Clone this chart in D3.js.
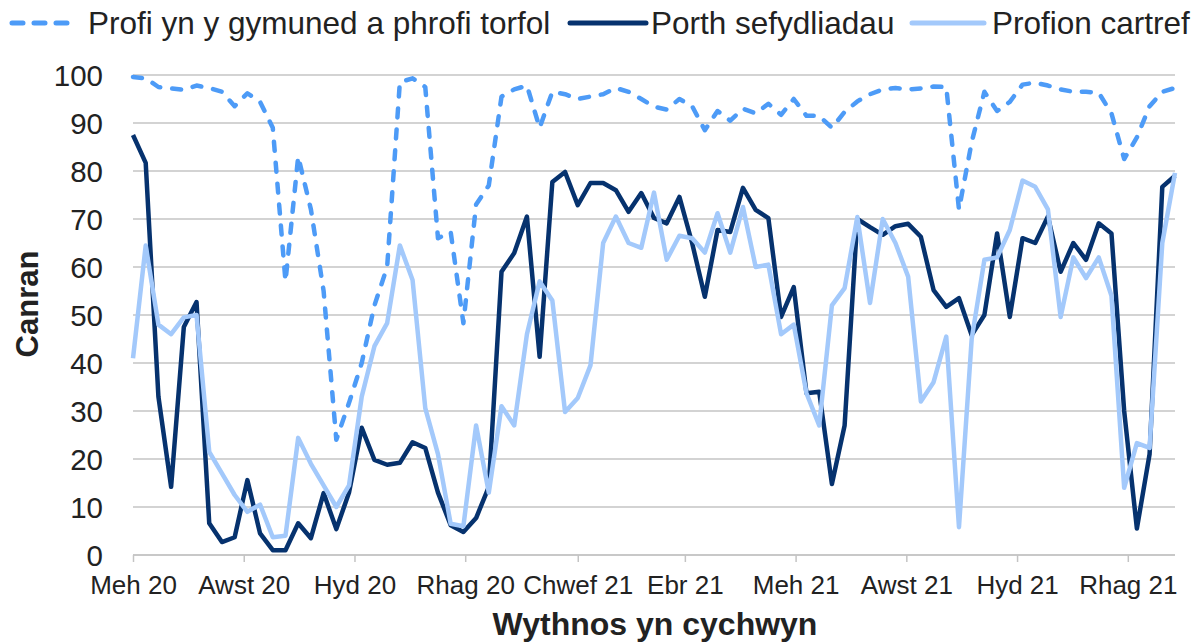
<!DOCTYPE html>
<html>
<head>
<meta charset="utf-8">
<script src="https://cdn.jsdelivr.net/npm/d3@7"></script>
<style>
  html, body { margin: 0; padding: 0; background: #ffffff; }
  svg { display: block; }
  text { font-family: "Liberation Sans", Arial, sans-serif; fill: #222; }
</style>
</head>
<body>
<svg id="chart" width="1196" height="643"></svg>
<script>
// ---- Data ----
const seriesNames = ["Profi yn y gymuned a phrofi torfol", "Porth sefydliadau", "Profion cartref"];

// weekly, week commencing 1 June 2020 .. 27 Dec 2021 (83 weeks)
const firstWeek = new Date(2020, 5, 1);
const weekCount = 83;

const community = [
  99.6, 99.3, 97.5, 97.2, 96.9, 97.8, 97.3, 96.5, 93.5, 96.2,
  94.4, 89, 57, 83, 72, 55, 24, 31.7, 40, 52,
  60, 98.5, 99.3, 97.5, 66, 67.3, 48.3, 73, 77, 95.5,
  97, 97.8, 89, 96.5, 96, 95, 95.5, 96, 97.3, 96.5,
  95, 93.4, 92.8, 95, 93.5, 88.5, 92.5, 90.5, 93, 92,
  94, 91.7, 95, 91.5, 91.5, 89, 92.3, 94.5, 96, 97,
  97.3, 97, 97.2, 97.6, 97.5, 72, 86, 96.5, 92.5, 94.4,
  98, 98.4, 97.8, 97, 96.5, 96.5, 96.3, 92, 82.5, 87,
  93.5, 96.5, 97.3
];

const institutional = [
  87.5, 81.7, 33, 14.2, 47.5, 52.7, 6.6, 2.7, 3.7, 15.6,
  4.5, 1, 1, 6.6, 3.5, 12.9, 5.4, 13, 26.5, 19.8,
  18.8, 19.2, 23.5, 22.3, 13, 6.2, 4.8, 7.7, 14.2, 59,
  62.9, 70.5, 41.3, 77.7, 79.8, 72.9, 77.5, 77.5, 76, 71.5,
  75.4, 70.2, 69.1, 74.6, 65, 53.8, 67.7, 67.3, 76.5, 71.9,
  70.2, 49.6, 55.8, 33.7, 34, 14.8, 27, 70, 68.3, 66.7,
  68.5, 69, 66.3, 55.2, 51.7, 53.5, 45.8, 50, 67, 49.6,
  66, 65, 70.5, 59, 65, 61.5, 69.1, 67, 30, 5.5,
  21, 76.7, 79
];

const home = [
  41, 64.5, 48, 46, 49.5, 50, 21.5, 17, 12.5, 9,
  10.5, 3.7, 4, 24.4, 19, 14.5, 10, 14.5, 33, 43.5,
  48.3, 64.5, 57.3, 30.6, 21, 6.5, 6, 27, 13, 31,
  27, 46, 57, 53, 29.8, 32.7, 39.5, 65, 70.5, 65,
  64, 75.5, 61.5, 66.5, 66, 63, 71.2, 63, 72.5, 60,
  60.5, 46, 48, 33.7, 27, 52, 55.6, 70.4, 52.5, 70,
  65, 58, 32, 36, 45.5, 5.8, 45, 61.5, 62, 67.7,
  78, 76.7, 72, 49.6, 62, 57.7, 62, 54, 14, 23.3,
  22.3, 65, 79.6
];

const tickLabels = ["Meh 20", "Awst 20", "Hyd 20", "Rhag 20", "Chwef 21", "Ebr 21", "Meh 21", "Awst 21", "Hyd 21", "Rhag 21"];
const tickDates = [
  new Date(2020, 5, 1), new Date(2020, 7, 1), new Date(2020, 9, 1), new Date(2020, 11, 1),
  new Date(2021, 1, 1), new Date(2021, 3, 1), new Date(2021, 5, 1), new Date(2021, 7, 1),
  new Date(2021, 9, 1), new Date(2021, 11, 1)
];
const yTicks = [0, 10, 20, 30, 40, 50, 60, 70, 80, 90, 100];

const xTitle = "Wythnos yn cychwyn";
const yTitle = "Canran";

// ---- Build ----
const weeks = d3.range(weekCount).map(i => d3.timeDay.offset(firstWeek, 7 * i));

const colors = ["#4d9bf7", "#06326e", "#a3c9fb"];

const svg = d3.select("#chart");
svg.append("rect").attr("width", 1196).attr("height", 643).attr("fill", "#fff");

const x = d3.scaleTime().domain([weeks[0], weeks[weeks.length - 1]]).range([133, 1175]);
const y = d3.scaleLinear().domain([0, 100]).range([555, 75]);

// grid lines
svg.append("g").selectAll("line").data(yTicks).join("line")
  .attr("x1", 133).attr("x2", 1175)
  .attr("y1", d => y(d)).attr("y2", d => y(d))
  .attr("stroke", "#c4c4c4").attr("stroke-width", 1.5);

// y axis labels
const yAxis = svg.append("g").attr("transform", "translate(133,0)")
  .call(d3.axisLeft(y).tickValues(yTicks).tickSize(0).tickPadding(30).tickFormat(d3.format("d")));
yAxis.select(".domain").remove();
yAxis.selectAll("text").attr("font-size", 29.5).attr("fill", "#222")
  .attr("font-family", "'Liberation Sans', Arial, sans-serif").attr("dy", "0.36em");

// x axis
const xAxis = svg.append("g").attr("transform", "translate(0,555)")
  .call(d3.axisBottom(x).tickValues(tickDates).tickSize(7).tickPadding(14)
    .tickFormat((d, i) => tickLabels[i]));
xAxis.select(".domain").attr("stroke", "#c4c4c4").attr("stroke-width", 1.5)
  .attr("d", "M133,0H1175");
xAxis.selectAll(".tick line").attr("stroke", "#c4c4c4").attr("stroke-width", 1.5);
xAxis.selectAll("text").attr("font-size", 26).attr("fill", "#222")
  .attr("font-family", "'Liberation Sans', Arial, sans-serif");

// lines
const allSeries = [community, institutional, home];
const lineGen = d3.line().x((d, i) => x(weeks[i])).y(d => y(d));
allSeries.forEach((s, k) => {
  svg.append("path").datum(s)
    .attr("fill", "none")
    .attr("stroke", colors[k])
    .attr("stroke-width", 4.5)
    .attr("stroke-linejoin", "round")
    .attr("stroke-linecap", k === 0 ? "round" : "butt")
    .attr("stroke-dasharray", k === 0 ? "9,12" : null)
    .attr("d", lineGen);
});

// legend
const legendItems = [
  { x1: 12, x2: 74, tx: 88 },
  { x1: 570, x2: 646, tx: 651 },
  { x1: 912, x2: 984, tx: 992 }
];
legendItems.forEach((L, k) => {
  svg.append("line").attr("x1", L.x1).attr("x2", L.x2).attr("y1", 23).attr("y2", 23)
    .attr("stroke", colors[k]).attr("stroke-width", 5)
    .attr("stroke-linecap", "round")
    .attr("stroke-dasharray", k === 0 ? "11,11" : null);
  svg.append("text").attr("x", L.tx).attr("y", 34).attr("font-size", 31.5)
    .attr("fill", "#222").text(seriesNames[k]);
});

// axis titles
svg.append("text").attr("x", 655).attr("y", 635).attr("text-anchor", "middle")
  .attr("font-size", 32).attr("font-weight", "bold").attr("fill", "#111").text(xTitle);
svg.append("text").attr("transform", "translate(38,304) rotate(-90)")
  .attr("text-anchor", "middle").attr("font-size", 31).attr("font-weight", "bold")
  .attr("fill", "#111").text(yTitle);
</script>
</body>
</html>
